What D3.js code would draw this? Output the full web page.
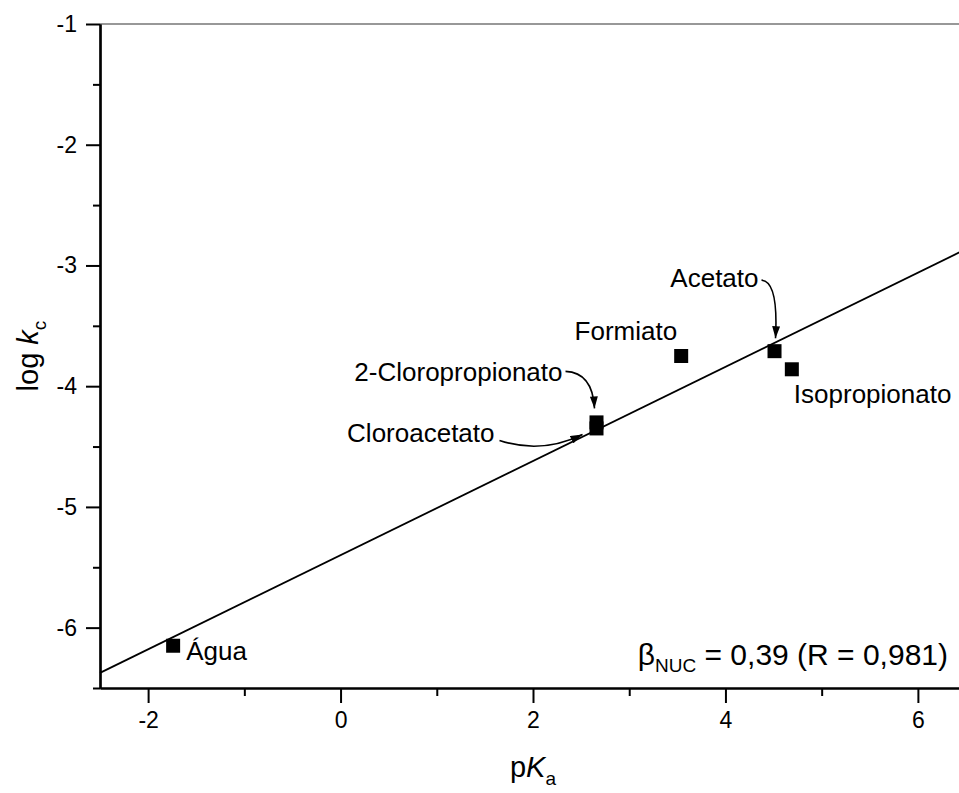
<!DOCTYPE html>
<html>
<head>
<meta charset="utf-8">
<script src="https://cdn.jsdelivr.net/npm/d3@7"></script>
<style>
  html, body { margin: 0; padding: 0; background: #fff; overflow: hidden; }
  text { font-family: "Liberation Sans", Arial, sans-serif; fill: #000; }
</style>
</head>
<body>
<svg id="chart" width="959" height="793"></svg>
<script>
"use strict";

// data
var compounds = ["Água", "Cloroacetato", "2-Cloropropionato", "Formiato", "Acetato", "Isopropionato"];
var pKa = [-1.74, 2.66, 2.66, 3.54, 4.51, 4.69];
var logKc = [-6.15, -4.35, -4.30, -3.75, -3.71, -3.86];

var xTicks = [-2, 0, 2, 4, 6],
    xMinor = [-1, 1, 3, 5],
    yTicks = [-1, -2, -3, -4, -5, -6],
    yMinor = [-1.5, -2.5, -3.5, -4.5, -5.5, -6.5];

// linear fit, beta_NUC = 0,39
var fitX = [-2.5, 6.5],
    fitY = [-6.375, -2.865];

(function(d3){
    var svg = d3.select("#chart");

    var x = d3.scaleLinear().domain([-2.5, 6.5]).range([100, 966]),
        y = d3.scaleLinear().domain([-6.5, -1]).range([688, 24]);

    // label placement (pixels, relative to the point)
    var notes = {
        "Água":              {dx: 13, dy: 14, anchor: "start"},
        "Cloroacetato":      {dx: -102, dy: 14, anchor: "end", arrow: [[-97, 12], [-55, 26], [-14, 6]]},
        "2-Cloropropionato": {dx: -34, dy: -41, anchor: "end", arrow: [[-31, -51], [-4, -50], [-2, -14]]},
        "Formiato":          {dx: -4, dy: -16, anchor: "end"},
        "Acetato":           {dx: -16, dy: -64, anchor: "end", arrow: [[-13, -71], [4, -70], [1, -13]]},
        "Isopropionato":     {dx: 2, dy: 34, anchor: "start"}
    };

    svg.append("defs").append("marker")
        .attr("id", "head")
        .attr("viewBox", "0 0 12 8")
        .attr("refX", 12).attr("refY", 4)
        .attr("markerUnits", "userSpaceOnUse")
        .attr("markerWidth", 13).attr("markerHeight", 8)
        .attr("orient", "auto")
        .append("path")
        .attr("d", "M0,0 L12,4 L0,8 Z")
        .attr("fill", "#000");

    // frame (top / right)
    svg.append("path")
        .attr("d", "M" + x(-2.5) + "," + y(-1) + "H" + x(6.5) + "V" + y(-6.5))
        .attr("fill", "none")
        .attr("stroke", "#333")
        .attr("stroke-width", 1.2);

    // fit line
    svg.append("line")
        .attr("x1", x(fitX[0])).attr("y1", y(fitY[0]))
        .attr("x2", x(fitX[1])).attr("y2", y(fitY[1]))
        .attr("stroke", "#000")
        .attr("stroke-width", 1.8);

    // axes
    function styleAxis(g){
        g.attr("font-size", null).attr("font-family", null);
        g.selectAll(".domain").attr("stroke-width", 2.2);
        g.selectAll(".tick line").attr("stroke-width", 2);
        g.selectAll(".tick text").style("font-size", "23px");
    }

    svg.append("g")
        .attr("transform", "translate(0," + y(-6.5) + ")")
        .call(d3.axisBottom(x).tickValues(xMinor).tickSize(8).tickFormat("").tickSizeOuter(0))
        .call(styleAxis);
    svg.append("g")
        .attr("transform", "translate(0," + y(-6.5) + ")")
        .call(d3.axisBottom(x).tickValues(xTicks).tickSize(15).tickPadding(9).tickSizeOuter(0)
            .tickFormat(function(v){ return String(v); }))
        .call(styleAxis);

    svg.append("g")
        .attr("transform", "translate(" + x(-2.5) + ",0)")
        .call(d3.axisLeft(y).tickValues(yMinor).tickSize(7).tickFormat("").tickSizeOuter(0))
        .call(styleAxis);
    svg.append("g")
        .attr("transform", "translate(" + x(-2.5) + ",0)")
        .call(d3.axisLeft(y).tickValues(yTicks).tickSize(14).tickPadding(9).tickSizeOuter(0)
            .tickFormat(function(v){ return String(v); }))
        .call(styleAxis);

    // points
    var pts = compounds.map(function(name, i){
        return {name: name, px: x(pKa[i]), py: y(logKc[i])};
    });

    var sq = 14;
    svg.append("g").selectAll("rect")
        .data(pts)
        .enter()
        .append("rect")
        .attr("x", function(d){ return d.px - sq / 2; })
        .attr("y", function(d){ return d.py - sq / 2; })
        .attr("width", sq).attr("height", sq)
        .attr("fill", "#000");

    // labels
    svg.append("g").selectAll("text")
        .data(pts)
        .enter()
        .append("text")
        .attr("x", function(d){ return d.px + notes[d.name].dx; })
        .attr("y", function(d){ return d.py + notes[d.name].dy; })
        .attr("text-anchor", function(d){ return notes[d.name].anchor; })
        .style("font-size", "26px")
        .text(function(d){ return d.name; });

    // curved arrows
    svg.append("g").selectAll("path")
        .data(pts.filter(function(d){ return notes[d.name].arrow; }))
        .enter()
        .append("path")
        .attr("d", function(d){
            var a = notes[d.name].arrow;
            return "M" + (d.px + a[0][0]) + "," + (d.py + a[0][1]) +
                   " Q" + (d.px + a[1][0]) + "," + (d.py + a[1][1]) +
                   " " + (d.px + a[2][0]) + "," + (d.py + a[2][1]);
        })
        .attr("fill", "none")
        .attr("stroke", "#000")
        .attr("stroke-width", 1.6)
        .attr("marker-end", "url(#head)");

    // axis titles
    var yt = svg.append("text")
        .attr("transform", "translate(38," + ((y(-1) + y(-6.5)) / 2) + ") rotate(-90)")
        .attr("text-anchor", "middle")
        .style("font-size", "29px");
    yt.append("tspan").text("log ");
    yt.append("tspan").style("font-style", "italic").text("k");
    yt.append("tspan").attr("dy", 8).style("font-size", "19px").text("c");

    var xt = svg.append("text")
        .attr("x", (x(-2.5) + x(6.5)) / 2)
        .attr("y", 777)
        .attr("text-anchor", "middle")
        .style("font-size", "29px");
    xt.append("tspan").text("p");
    xt.append("tspan").style("font-style", "italic").text("K");
    xt.append("tspan").attr("dy", 8).style("font-size", "19px").text("a");

    // fit annotation
    var bt = svg.append("text")
        .attr("x", 948)
        .attr("y", 665)
        .attr("text-anchor", "end")
        .style("font-size", "30px");
    bt.append("tspan").text("β");
    bt.append("tspan").attr("dy", 7).style("font-size", "19px").text("NUC");
    bt.append("tspan").attr("dy", -7).text(" = 0,39 (R = 0,981)");
})(d3);
</script>
</body>
</html>
